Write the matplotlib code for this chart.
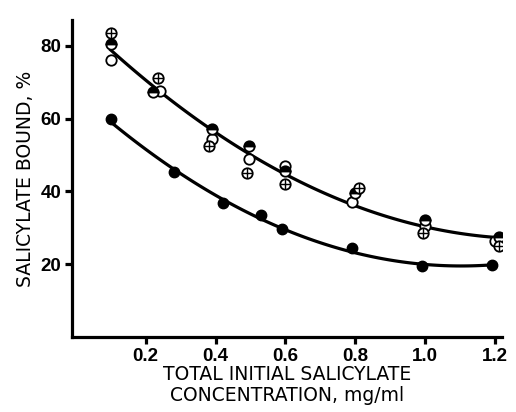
import numpy as np
import matplotlib
matplotlib.use("Agg")
import matplotlib.pyplot as plt

plt.rcParams['font.family'] = ['Liberation Sans', 'DejaVu Sans']

# lower curve, filled circles
x_fill = [0.10, 0.28, 0.42, 0.53, 0.59, 0.79, 0.99, 1.19]
y_fill = [59.8, 45.2, 36.8, 33.5, 29.6, 24.4, 19.4, 19.8]

# upper curve, three kinds of markers
x_open = [0.10, 0.24, 0.39, 0.495, 0.60, 0.79, 1.00, 1.20]
y_open = [76.0, 67.5, 54.5, 49.0, 47.0, 37.0, 30.5, 26.5]
x_half = [0.10, 0.22, 0.39, 0.495, 0.60, 0.80, 1.00, 1.21]
y_half = [80.5, 67.3, 57.0, 52.5, 45.5, 39.5, 32.0, 27.5]
x_plus = [0.10, 0.235, 0.38, 0.49, 0.60, 0.81, 0.995, 1.21]
y_plus = [83.5, 71.0, 52.5, 45.0, 42.0, 41.0, 28.5, 25.0]

xticks = [0.2, 0.4, 0.6, 0.8, 1.0, 1.2]
yticks = [20, 40, 60, 80]

fig = plt.figure(figsize=(5.16, 4.12), dpi=100)
ax = fig.add_axes([0.14, 0.182, 0.833, 0.769])

# fitted trend lines
xs = np.linspace(0.1, 1.2, 100)
up_x = np.array(x_open + x_half + x_plus)
up_y = np.array(y_open + y_half + y_plus)
p_up = np.polyfit(up_x, up_y, 2)
p_lo = np.polyfit(x_fill, y_fill, 2)
ax.plot(xs, np.polyval(p_up, xs), color='black', lw=2.3, zorder=2)
ax.plot(xs, np.polyval(p_lo, xs), color='black', lw=2.3, zorder=2)

ms = 7.5
ax.plot(x_fill, y_fill, 'o', color='black', ms=ms, zorder=3)
ax.plot(x_open, y_open, 'o', mfc='white', mec='black', mew=1.3, ms=ms, zorder=3)
ax.plot(x_half, y_half, 'o', fillstyle='top', mfc='black', mfcalt='white',
        mec='black', mew=1.3, ms=ms, zorder=3)
ax.plot(x_plus, y_plus, 'o', mfc='white', mec='black', mew=1.3, ms=ms, zorder=3)
ax.plot(x_plus, y_plus, '+', color='black', mew=1.0, ms=ms, zorder=4)

ax.set_xlim(-0.01, 1.22)
ax.set_ylim(0, 87)
ax.set_xticks(xticks)
ax.set_xticklabels(['0.2', '0.4', '0.6', '0.8', '1.0', '1.2'])
ax.set_yticks(yticks)

for s in ['top', 'right']:
    ax.spines[s].set_visible(False)
for s in ['left', 'bottom']:
    ax.spines[s].set_linewidth(2.3)
ax.tick_params(direction='out', length=5, width=2.3, labelsize=13.5, pad=3)
for lab in ax.get_xticklabels() + ax.get_yticklabels():
    lab.set_fontweight('bold')

ax.set_xlabel('TOTAL INITIAL SALICYLATE\nCONCENTRATION, mg/ml', fontsize=13.5,
              family='DejaVu Sans', linespacing=1.12, labelpad=0)
ax.set_ylabel('SALICYLATE BOUND, %', fontsize=13.5, family='DejaVu Sans',
              labelpad=4)

fig.savefig('out.png', dpi=100)
